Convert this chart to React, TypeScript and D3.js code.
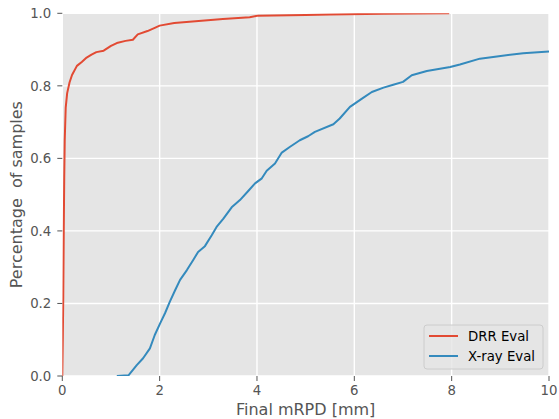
import React from "react";
import * as d3 from "d3";

const drrX = [0, 0.01, 0.02, 0.03, 0.04, 0.05, 0.07, 0.1, 0.15, 0.2, 0.3, 0.4, 0.5, 0.6, 0.7, 0.85, 1.0, 1.12, 1.3, 1.45, 1.55, 1.75, 1.9, 2.0, 2.3, 2.8, 3.3, 3.85, 4.0, 5.0, 5.5, 6.6, 7.95];
const drrY = [0, 0.1, 0.22, 0.4, 0.55, 0.65, 0.74, 0.78, 0.81, 0.83, 0.855, 0.866, 0.878, 0.886, 0.893, 0.897, 0.91, 0.918, 0.924, 0.927, 0.942, 0.951, 0.96, 0.966, 0.973, 0.979, 0.984, 0.989, 0.993, 0.995, 0.997, 0.999, 1.0];

const xrayX = [1.12, 1.36, 1.53, 1.66, 1.8, 1.9, 2.01, 2.11, 2.21, 2.32, 2.42, 2.56, 2.69, 2.79, 2.93, 3.07, 3.17, 3.31, 3.48, 3.65, 3.82, 3.96, 4.1, 4.2, 4.37, 4.51, 4.68, 4.88, 5.05, 5.19, 5.57, 5.7, 5.91, 6.18, 6.36, 6.6, 6.8, 7.0, 7.18, 7.49, 7.97, 8.17, 8.58, 8.93, 9.47, 10.0];
const xrayY = [0, 0.002, 0.03, 0.049, 0.076, 0.113, 0.145, 0.173, 0.205, 0.237, 0.265, 0.292, 0.32, 0.342, 0.358, 0.388, 0.411, 0.434, 0.465, 0.485, 0.51, 0.531, 0.545, 0.566, 0.586, 0.616, 0.632, 0.65, 0.661, 0.673, 0.694, 0.71, 0.742, 0.767, 0.783, 0.795, 0.803, 0.811, 0.829, 0.841, 0.852, 0.859, 0.875, 0.881, 0.89, 0.895];

const xTicks = [0, 2, 4, 6, 8, 10];
const yTicks = [0, 0.2, 0.4, 0.6, 0.8, 1.0];
const seriesNames = ["DRR Eval", "X-ray Eval"];
const seriesColors = ["#E24A33", "#348ABD"];

const W = 559, H = 419;
const L = 62.3, R = 549, T = 13.3, B = 376;

export default function App() {
  const x = d3.scaleLinear().domain([0, 10]).range([L, R]);
  const y = d3.scaleLinear().domain([0, 1]).range([B, T]);
  const line = d3.line<[number, number]>().x(d => x(d[0])).y(d => y(d[1])).curve(d3.curveLinear);
  const drr = drrX.map((v, i) => [v, drrY[i]] as [number, number]);
  const xray = xrayX.map((v, i) => [v, xrayY[i]] as [number, number]);
  const tc = "#555555";
  const font = "DejaVu Sans";
  return (
    <svg width={W} height={H} style={{ position: "absolute", left: 0, top: 0 }} fontFamily={font}>
      <rect x={0} y={0} width={W} height={H} fill="white" />
      <defs>
        <clipPath id="plot">
          <rect x={L} y={T} width={R - L} height={B - T} />
        </clipPath>
      </defs>
      <rect x={L} y={T} width={R - L} height={B - T} fill="#E5E5E5" />
      {xTicks.map(t => (
        <line key={"gx" + t} x1={x(t)} x2={x(t)} y1={T} y2={B} stroke="white" strokeWidth={1.4} />
      ))}
      {yTicks.map(t => (
        <line key={"gy" + t} x1={L} x2={R} y1={y(t)} y2={y(t)} stroke="white" strokeWidth={1.4} />
      ))}
      <g clipPath="url(#plot)">
        <path d={line(drr) || ""} fill="none" stroke={seriesColors[0]} strokeWidth={2} strokeLinejoin="round" />
        <path d={line(xray) || ""} fill="none" stroke={seriesColors[1]} strokeWidth={2} strokeLinejoin="round" />
      </g>
      {xTicks.map(t => (
        <g key={"tx" + t}>
          <line x1={x(t)} x2={x(t)} y1={B} y2={B + 5} stroke={tc} strokeWidth={1} />
          <text x={x(t)} y={B + 19} textAnchor="middle" fontSize={13.3} fill={tc}>{t}</text>
        </g>
      ))}
      {yTicks.map(t => (
        <g key={"ty" + t}>
          <line x1={L - 5} x2={L} y1={y(t)} y2={y(t)} stroke={tc} strokeWidth={1} />
          <text x={L - 11} y={y(t)} dy="0.36em" textAnchor="end" fontSize={13.3} fill={tc}>{t.toFixed(1)}</text>
        </g>
      ))}
      <text x={(L + R) / 2} y={415} textAnchor="middle" fontSize={16} fill={tc}>Final mRPD [mm]</text>
      <text transform={`translate(22,${(T + B) / 2}) rotate(-90)`} textAnchor="middle" fontSize={16} fill={tc} style={{ whiteSpace: "pre" }}>{"Percentage  of samples"}</text>
      <g>
        <rect x={424} y={325} width={119} height={44} rx={3} fill="#E5E5E5" fillOpacity={0.8} stroke="#CCCCCC" strokeWidth={1} />
        {seriesNames.map((n, i) => (
          <g key={n}>
            <line x1={429} x2={458} y1={336 + i * 20} y2={336 + i * 20} stroke={seriesColors[i]} strokeWidth={2} />
            <text x={468} y={336 + i * 20} dy="0.36em" fontSize={13.3} fill="#000">{n}</text>
          </g>
        ))}
      </g>
    </svg>
  );
}
